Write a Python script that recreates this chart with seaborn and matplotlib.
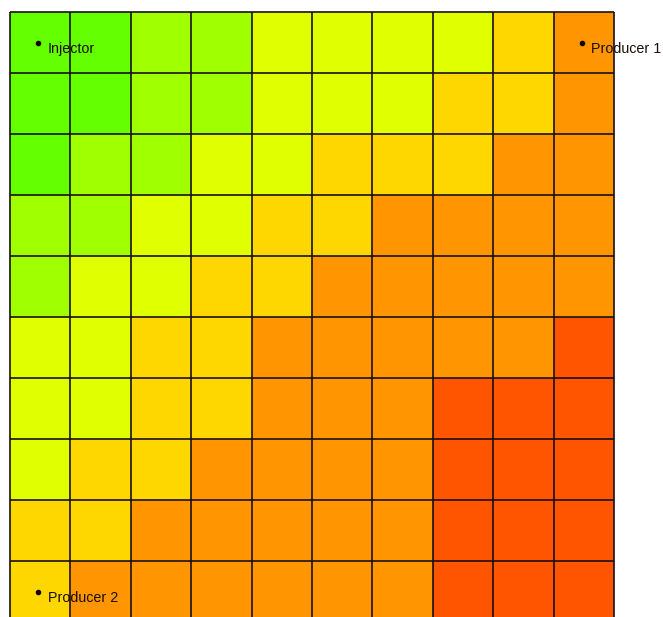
import numpy as np
import matplotlib
matplotlib.use("Agg")
import matplotlib.pyplot as plt
from matplotlib.colors import ListedColormap
import seaborn as sns

# Saturation class per grid block (rows top to bottom, columns left to right)
# 1 = lowest ... 6 = highest
levels = [
    [1, 1, 2, 2, 3, 3, 3, 3, 4, 5],
    [1, 1, 2, 2, 3, 3, 3, 4, 4, 5],
    [1, 2, 2, 3, 3, 4, 4, 4, 5, 5],
    [2, 2, 3, 3, 4, 4, 5, 5, 5, 5],
    [2, 3, 3, 4, 4, 5, 5, 5, 5, 5],
    [3, 3, 4, 4, 5, 5, 5, 5, 5, 6],
    [3, 3, 4, 4, 5, 5, 5, 6, 6, 6],
    [3, 4, 4, 5, 5, 5, 5, 6, 6, 6],
    [4, 4, 5, 5, 5, 5, 5, 6, 6, 6],
    [4, 5, 5, 5, 5, 5, 5, 6, 6, 6],
]
level_colors = ["#64ff00", "#a0ff00", "#e0ff00", "#ffd700", "#ff9500", "#ff5500"]

# Wells: name, column, row of the block that holds them
well_names = ["Injector", "Producer 1", "Producer 2"]
well_cols = [0, 9, 0]
well_rows = [0, 0, 9]

sns.set_theme(style="white")
plt.rcParams["font.family"] = ["Liberation Sans", "DejaVu Sans"]

W, H = 663, 617
fig = plt.figure(figsize=(W / 100, H / 100), dpi=100)
fig.patch.set_facecolor("white")
ax = fig.add_axes([10 / W, (617 - 622) / H, 604 / W, 610 / H])

grid = np.array(levels)
sns.heatmap(grid, cmap=ListedColormap(level_colors), vmin=0.5, vmax=6.5,
            cbar=False, xticklabels=False, yticklabels=False,
            linewidths=0, ax=ax)
ax.tick_params(length=0)
for s in ax.spines.values():
    s.set_visible(False)

nrows, ncols = grid.shape

# Well markers and their labels (sit beneath the block outlines)
for name, c, r in zip(well_names, well_cols, well_rows):
    x, y = c + 0.47, r + 0.5
    ax.plot([x], [y], "o", ms=3.0, color="#120600", zorder=3, clip_on=False)
    ax.annotate(name, (x, y), xytext=(6.6, -7.4), textcoords="offset points",
                ha="left", va="baseline", fontsize=10.3, color="#1c0c04",
                zorder=3, annotation_clip=False)

# Block outlines drawn on top
ax.vlines(np.arange(ncols + 1), 0, nrows, colors="#1a1010", linewidth=1.2,
          zorder=4, clip_on=False)
ax.hlines(np.arange(nrows + 1), 0, ncols, colors="#1a1010", linewidth=1.2,
          zorder=4, clip_on=False)

fig.savefig("out.png", dpi=100, facecolor="white")
